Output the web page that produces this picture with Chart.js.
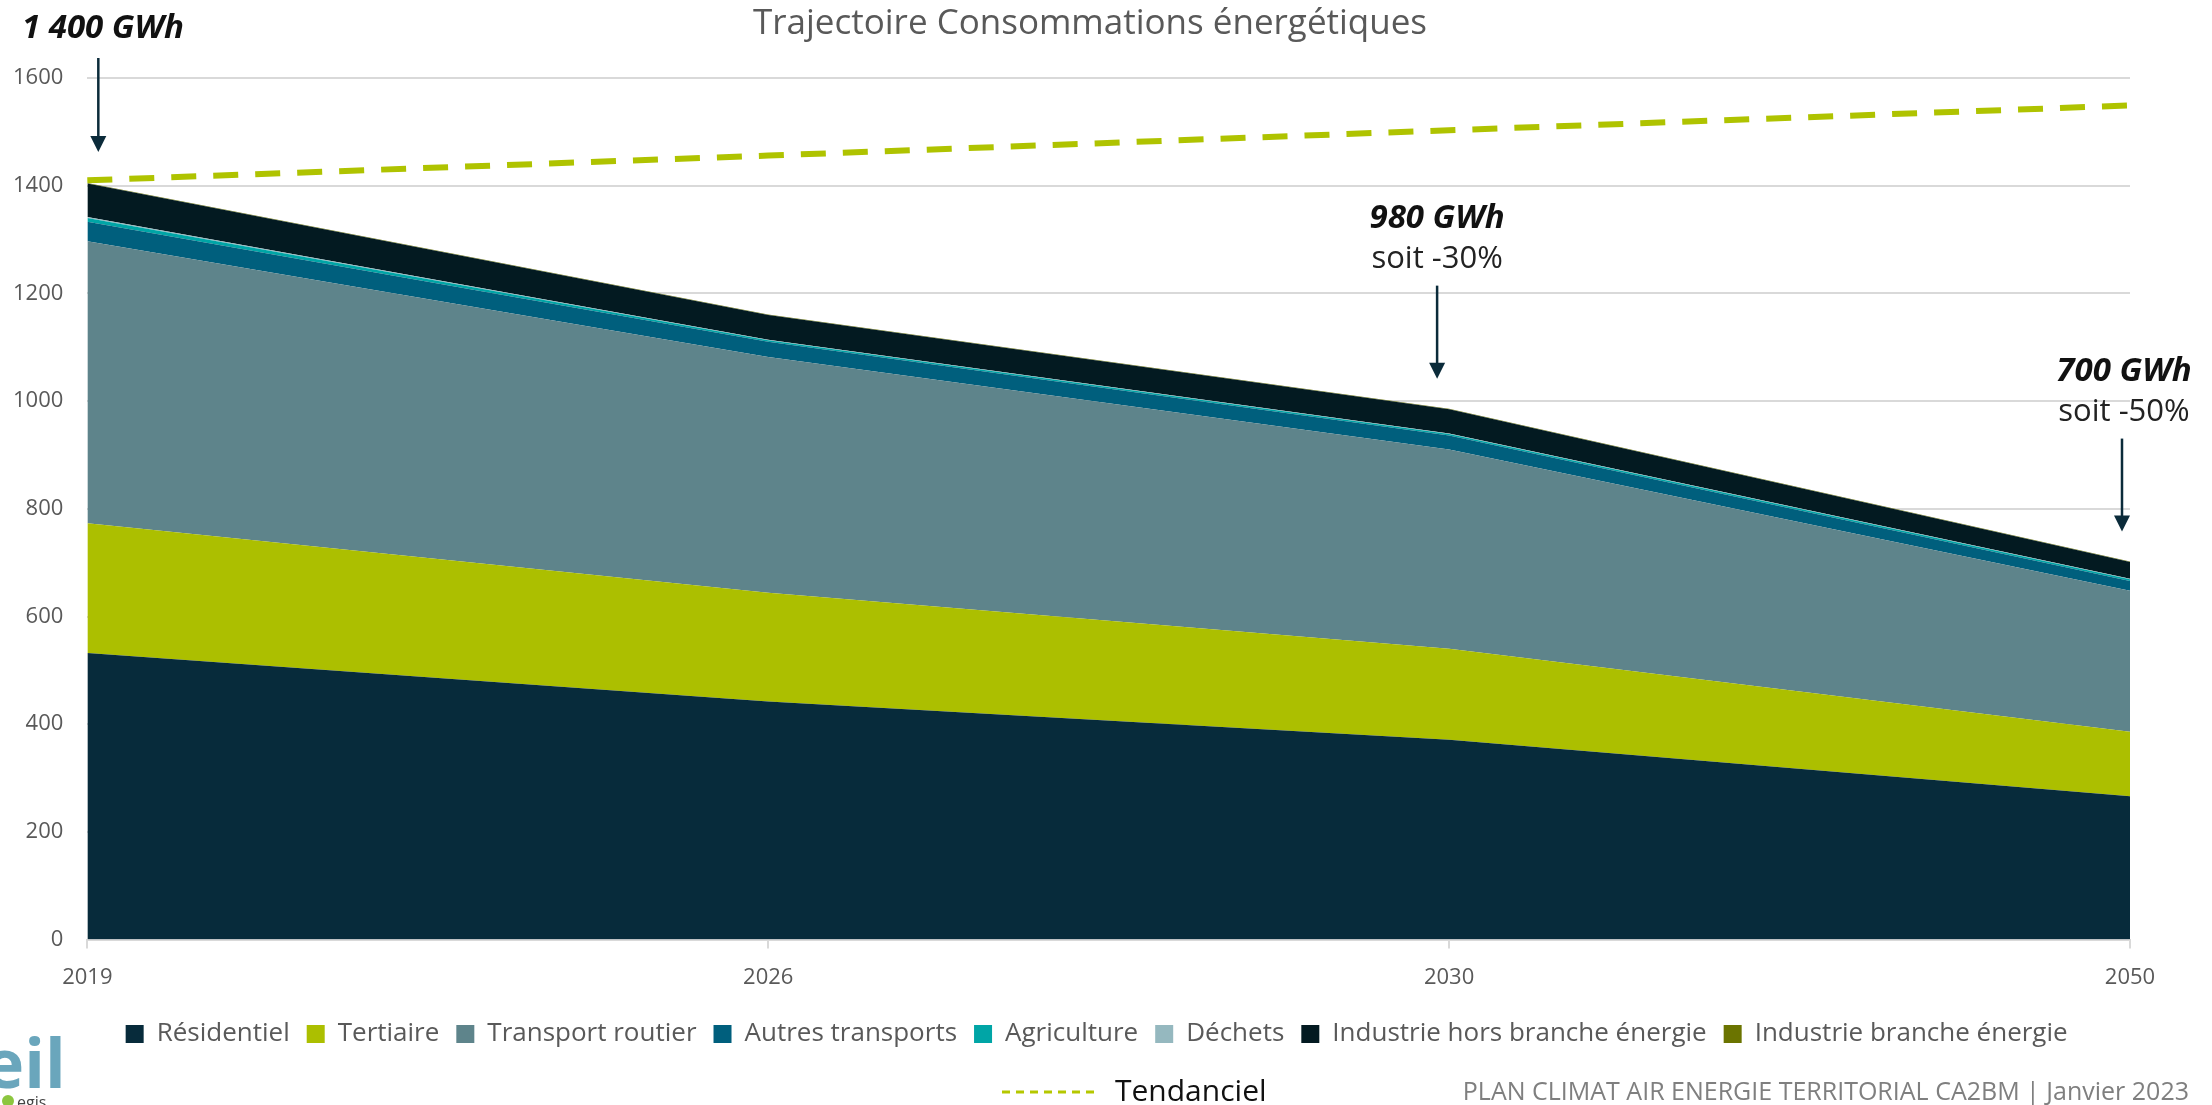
<!DOCTYPE html>
<html lang="fr">
<head>
<meta charset="utf-8">
<title>Trajectoire Consommations énergétiques</title>
<script src="https://cdn.jsdelivr.net/npm/chart.js@4.4.1/dist/chart.umd.min.js"></script>
<style>
    html, body { margin: 0; padding: 0; background: #fff; }
    #wrap { width: 2212px; height: 1105px; position: relative; overflow: hidden; }
</style>
</head>
<body>
<div id="wrap"><canvas id="chart" width="2212" height="1105"></canvas></div>
<script>
// ============================================
// Données (GWh)
// ============================================
const years = ["2019", "2026", "2030", "2050"];

const residentiel       = [532, 442, 371, 266];
const tertiaire         = [241, 202, 169, 120];
const transportRoutier  = [524, 438, 370, 262];
const autresTransports  = [36, 28, 26, 18];
const agriculture       = [7, 3, 3, 3];
const dechets           = [2, 1, 1, 1];
const industrieHors     = [62, 46, 45, 31];
const industrieBranche  = [1, 1, 1, 1];

const tendanciel        = [1410, 1456, 1503, 1549];

const yTicks = { min: 0, max: 1600, step: 200 };

// annotations : index de l'année, texte principal, sous-texte
const annotYears = [0, 2, 3];
const annotMain  = ["1 400 GWh", "980 GWh", "700 GWh"];
const annotSub   = ["", "soit -30%", "soit -50%"];

const FONT = "'Open Sans', 'Noto Sans', sans-serif";
const GREY = "#595959";
const ARROW = "#0b2b3a";

const series = [
    { label: "Résidentiel",                   data: residentiel,      color: "#072b3b" },
    { label: "Tertiaire",                     data: tertiaire,        color: "#acbf00" },
    { label: "Transport routier",             data: transportRoutier, color: "#5e848b" },
    { label: "Autres transports",             data: autresTransports, color: "#005f7d" },
    { label: "Agriculture",                   data: agriculture,      color: "#00a5a6" },
    { label: "Déchets",                       data: dechets,          color: "#95b8bf" },
    { label: "Industrie hors branche énergie", data: industrieHors,   color: "#031a21" },
    { label: "Industrie branche énergie",     data: industrieBranche, color: "#6b7400" },
];

const datasets = series.map((s, i) => ({
    label: s.label,
    data: s.data,
    backgroundColor: s.color,
    borderColor: "rgba(0,0,0,0)",
    borderWidth: 1,
    pointRadius: 0,
    tension: 0,
    fill: i === 0 ? "origin" : "-1",
    stack: "conso",
}));

datasets.push({
    label: "Tendanciel",
    data: tendanciel,
    borderColor: "#afc300",
    backgroundColor: "#afc300",
    borderWidth: 6,
    borderDash: [25, 17],
    pointRadius: 0,
    fill: false,
    stack: "trend",
});

// ============================================
// Textes, flèches, légende tendanciel, pied
// ============================================
function arrow(ctx, x, yTop, yTip) {
    ctx.save();
    ctx.strokeStyle = ARROW;
    ctx.fillStyle = ARROW;
    ctx.lineWidth = 2.5;
    ctx.beginPath();
    ctx.moveTo(x, yTop);
    ctx.lineTo(x, yTip - 14);
    ctx.stroke();
    ctx.beginPath();
    ctx.moveTo(x - 8, yTip - 16);
    ctx.lineTo(x + 8, yTip - 16);
    ctx.lineTo(x, yTip);
    ctx.closePath();
    ctx.fill();
    ctx.restore();
}

// légende un peu décalée vers la gauche, comme l'original
const legendShift = {
    id: "legendShift",
    afterLayout(chart) {
        if (!chart.legend) return;
        chart.legend.left -= 12;
        chart.legend.right -= 12;
    },
};

const overlay = {
    id: "overlay",
    afterDraw(chart) {
        const ctx = chart.ctx;
        const xs = chart.scales.x;
        const ys = chart.scales.y;

        ctx.save();

        // titre
        ctx.fillStyle = GREY;
        ctx.font = `35px ${FONT}`;
        ctx.textAlign = "center";
        ctx.textBaseline = "middle";
        ctx.fillText("Trajectoire Consommations énergétiques", 1090, 24);

        // annotations (positions calées sur les échelles)
        const totals = years.map((_, i) => series.reduce((s, d) => s + d.data[i], 0));
        annotYears.forEach((yi, k) => {
            const px = xs.getPixelForValue(yi);
            const top = ys.getPixelForValue(totals[yi]);
            if (k === 0) {
                arrow(ctx, px + 11, 58, top - 31);
                ctx.font = `italic bold 33px ${FONT}`;
                ctx.fillStyle = "#111";
                ctx.textAlign = "left";
                ctx.fillText(annotMain[k], 22, 29);
                return;
            }
            const ax = px - (k === 1 ? 12 : 8);
            const labelX = k === 1 ? ax : ax + 2;
            const tip = top - 30;
            arrow(ctx, ax, tip - 93, tip);
            ctx.textAlign = "center";
            ctx.fillStyle = "#111";
            ctx.font = `italic bold 33px ${FONT}`;
            ctx.fillText(annotMain[k], labelX, tip - 160);
            ctx.fillStyle = "#222";
            ctx.font = `31px ${FONT}`;
            ctx.fillText(annotSub[k], labelX, tip - 119);
        });

        // légende tendanciel
        ctx.save();
        ctx.strokeStyle = "#b5c800";
        ctx.lineWidth = 3;
        ctx.setLineDash([8, 6]);
        ctx.beginPath();
        ctx.moveTo(1002, 1092);
        ctx.lineTo(1094, 1092);
        ctx.stroke();
        ctx.restore();
        ctx.fillStyle = "#111";
        ctx.font = `30px ${FONT}`;
        ctx.textAlign = "left";
        ctx.textBaseline = "alphabetic";
        ctx.fillText("Tendanciel", 1115, 1101);

        // pied de page
        ctx.fillStyle = "#7f7f7f";
        ctx.font = `25px ${FONT}`;
        ctx.textAlign = "right";
        ctx.textBaseline = "middle";
        ctx.fillText("PLAN CLIMAT AIR ENERGIE TERRITORIAL CA2BM | Janvier 2023", 2189, 1093);

        // logo (coupé à gauche)
        ctx.textAlign = "left";
        ctx.textBaseline = "alphabetic";
        ctx.font = `bold 68px ${FONT}`;
        ctx.fillStyle = "#6aa6bc";
        ctx.fillText("eil", -16, 1088);
        ctx.fillStyle = "#8cc63f";
        ctx.beginPath();
        ctx.arc(8, 1101, 6, 0, Math.PI * 2);
        ctx.fill();
        ctx.fillStyle = "#444";
        ctx.font = `16px ${FONT}`;
        ctx.fillText("egis", 17, 1108);

        ctx.restore();
    },
};

// ============================================
// Graphique
// ============================================
const ctx = document.getElementById("chart").getContext("2d");

new Chart(ctx, {
    type: "line",
    data: { labels: years, datasets },
    options: {
        responsive: false,
        animation: false,
        devicePixelRatio: 1,
        layout: { padding: { top: 78, left: 13, right: 82, bottom: 48 } },
        plugins: {
            title: { display: false },
            tooltip: { enabled: false },
            legend: {
                position: "bottom",
                fullSize: false,
                labels: {
                    font: { family: FONT, size: 26 },
                    color: GREY,
                    boxWidth: 18,
                    boxHeight: 18,
                    padding: 17,
                    filter: (item) => item.text !== "Tendanciel",
                },
            },
        },
        scales: {
            x: {
                offset: false,
                grid: {
                    drawOnChartArea: false,
                    drawTicks: true,
                    tickLength: 9,
                    color: "#d9d9d9",
                    lineWidth: 2,
                },
                border: { color: "#d9d9d9", width: 2 },
                ticks: {
                    font: { family: FONT, size: 22 },
                    color: GREY,
                    padding: 16,
                    maxRotation: 0,
                },
                afterFit: (scale) => { scale.height -= 3; },
            },
            y: {
                stacked: true,
                min: yTicks.min,
                max: yTicks.max,
                grid: { color: "#d9d9d9", lineWidth: 2, drawTicks: false },
                border: { display: false },
                ticks: {
                    stepSize: yTicks.step,
                    font: { family: FONT, size: 22 },
                    color: GREY,
                    padding: 24,
                    callback: (v) => String(v),
                },
                afterFit: (scale) => { scale.width -= 24; },
            },
        },
    },
    plugins: [legendShift, overlay],
});
</script>
</body>
</html>
